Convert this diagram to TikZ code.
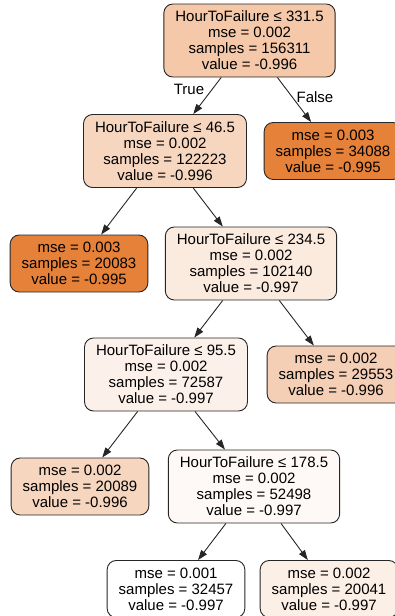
\documentclass[tikz,border=0pt]{standalone}
\usepackage{fontspec}
\setmainfont{Liberation Sans}
\usetikzlibrary{arrows.meta}
\definecolor{cRoot}{RGB}{244,200,168}
\definecolor{cA}{RGB}{246,214,191}
\definecolor{cFull}{RGB}{229,129,57}
\definecolor{cB}{RGB}{251,234,222}
\definecolor{cC}{RGB}{252,241,234}
\definecolor{cD}{RGB}{245,207,181}
\definecolor{cE}{RGB}{254,249,246}
\definecolor{cF}{RGB}{252,239,230}
\begin{document}
\begin{tikzpicture}[x=1pt,y=-1pt,
  box/.style={draw=black!85, line width=0.9pt, rounded corners=9pt, align=center,
    font=\fontsize{15}{16}\selectfont, inner xsep=11.5pt, inner ysep=3pt},
  split/.style={box, minimum height=73pt},
  leaf/.style={box, minimum height=57pt},
  conn/.style={draw=black!85, line width=0.9pt, -{Triangle[length=10pt,width=7pt]}},
  lbl/.style={font=\fontsize{15}{16}\selectfont, inner sep=0pt}]
\useasboundingbox (0,0) rectangle (395,616);
\clip (0,0) rectangle (395,616);
\node[split, fill=cRoot] (root) at (249.5,40.5) {HourToFailure ≤ 331.5\\mse = 0.002\\samples = 156311\\value = -0.996};
\node[split, fill=cA] (n2) at (165,151) {HourToFailure ≤ 46.5\\mse = 0.002\\samples = 122223\\value = -0.996};
\node[leaf, fill=cFull] (n3) at (333,151) {mse = 0.003\\samples = 34088\\value = -0.995};
\node[leaf, fill=cFull] (n4) at (79,263.5) {mse = 0.003\\samples = 20083\\value = -0.995};
\node[split, fill=cB] (n5) at (251,263.5) {HourToFailure ≤ 234.5\\mse = 0.002\\samples = 102140\\value = -0.997};
\node[split, fill=cC] (n6) at (166,374.5) {HourToFailure ≤ 95.5\\mse = 0.002\\samples = 72587\\value = -0.997};
\node[leaf, fill=cD] (n7) at (336,374.5) {mse = 0.002\\samples = 29553\\value = -0.996};
\node[leaf, fill=cA] (n8) at (80,486.5) {mse = 0.002\\samples = 20089\\value = -0.996};
\node[split, fill=cE] (n9) at (254,486.5) {HourToFailure ≤ 178.5\\mse = 0.002\\samples = 52498\\value = -0.997};
\node[leaf, fill=white] (n10) at (176,589) {mse = 0.001\\samples = 32457\\value = -0.997};
\node[leaf, fill=cF] (n11) at (329,589) {mse = 0.002\\samples = 20041\\value = -0.997};
\draw[conn] (root) -- (n2);
\draw[conn] (root) -- (n3);
\draw[conn] (n2) -- (n4);
\draw[conn] (n2) -- (n5);
\draw[conn] (n5) -- (n6);
\draw[conn] (n5) -- (n7);
\draw[conn] (n6) -- (n8);
\draw[conn] (n6) -- (n9);
\draw[conn] (n9) -- (n10);
\draw[conn] (n9) -- (n11);
\node[lbl] (tl) at (189,89.5) {True};
\node[lbl] (fl) at (315,97) {False};
\end{tikzpicture}
\end{document}
